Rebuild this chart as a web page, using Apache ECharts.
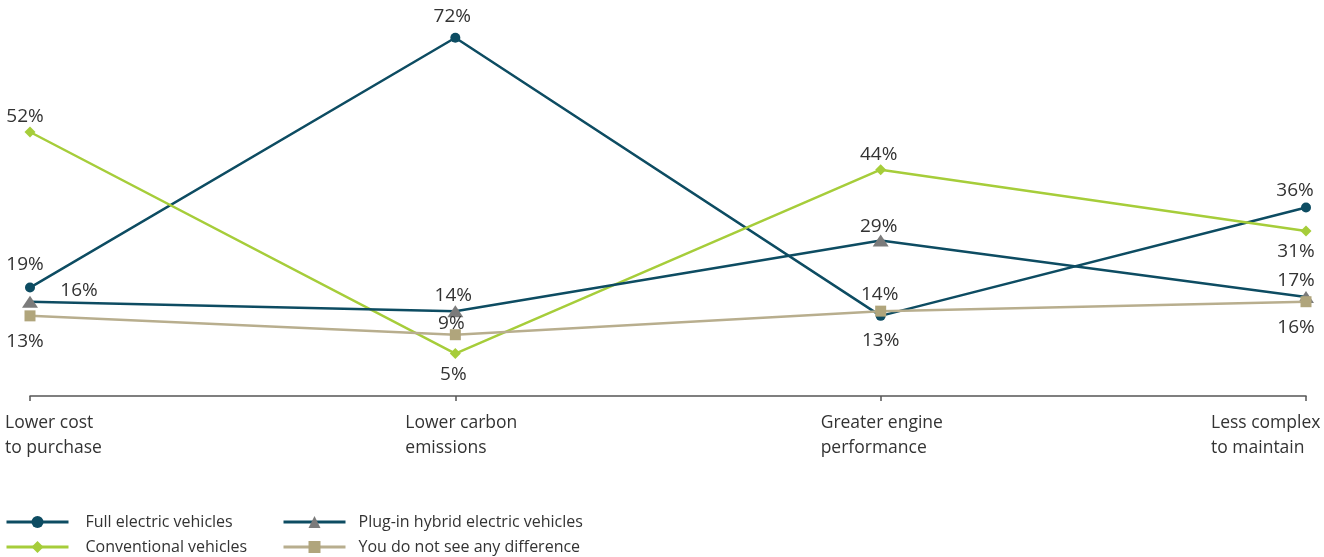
<!DOCTYPE html>
<html>
<head>
<meta charset="utf-8">
<script src="https://cdn.jsdelivr.net/npm/echarts@6/dist/echarts.min.js"></script>
<style>
  html, body { margin: 0; padding: 0; background: #ffffff; }
  #chart { width: 1324px; height: 557px; }
</style>
</head>
<body>
<div id="chart"></div>
<script>
// Categories on the x axis (two-line labels)
const categories = ['Lower cost\nto purchase', 'Lower carbon\nemissions', 'Greater engine\nperformance', 'Less complex\nto maintain'];

// Share of respondents (%) per attribute
const fullElectric = [19, 72, 13, 36];
const conventional = [52, 5, 44, 31];
const plugInHybrid = [16, 14, 29, 17];
const noDifference = [13, 9, 14, 16];

// Value-label offsets [dx, dy] from each marker centre
const fullElectricLabelShift = [[-5, -23], [-3, -21], [0, 25], [-11, -17]];
const conventionalLabelShift = [[-5, -15], [-2, 21], [-2, -15], [-10, 21]];
const plugInHybridLabelShift = [[49, -11], [-2, -16], [-2, -14], [-10, -16]];
const noDifferenceLabelShift = [[-5, 26], [-4, -11], [-1, -17], [-10, 26]];

// Left indent of each two-line axis label, measured from its tick
const axisLabelIndent = [25, 50, 60, 95];

const TEAL = '#0d4c62';
const LIME = '#a6cd3a';
const GREY = '#7b7b7b';
const TAN_LINE = '#b8ae8e';
const TAN_MARK = '#b0a57c';
const TEXT = '#333333';
const FONT = '"Open Sans", "Noto Sans", sans-serif';

function withLabels(values, shifts) {
  return values.map((v, i) => ({
    value: v,
    label: { offset: shifts[i] }
  }));
}

const valueLabel = {
  show: true,
  position: 'inside',
  formatter: '{c}%',
  color: TEXT,
  fontFamily: FONT,
  fontSize: 19,
  textBorderWidth: 0
};

const chart = echarts.init(document.getElementById('chart'), null, { renderer: 'canvas' });

const axisRich = {};
axisLabelIndent.forEach((w, i) => {
  axisRich['c' + i] = {
    width: w,
    align: 'left',
    fontFamily: FONT,
    fontSize: 17.5,
    lineHeight: 25,
    color: TEXT
  };
});

const legendText = { color: TEXT, fontFamily: FONT, fontSize: 16, lineHeight: 20, padding: [0, 0, 0, 12] };

chart.setOption({
  animation: false,
  backgroundColor: '#ffffff',
  grid: { left: 30, right: 18, top: 0, bottom: 161 },
  xAxis: {
    type: 'category',
    data: categories,
    boundaryGap: false,
    axisLine: { show: true, onZero: false, lineStyle: { color: '#555555', width: 1.5 } },
    axisTick: { show: true, length: 5, lineStyle: { color: '#555555', width: 1.5 } },
    axisLabel: {
      interval: 0,
      margin: 15,
      align: 'right',
      formatter: function (val, idx) {
        return val.split('\n').map(line => '{c' + idx + '|' + line + '}').join('\n');
      },
      rich: axisRich
    },
    splitLine: { show: false }
  },
  yAxis: {
    type: 'value',
    min: -4,
    max: 80,
    show: false,
    splitLine: { show: false }
  },
  legend: [
    {
      left: 5,
      top: 512,
      padding: 0,
      orient: 'vertical',
      itemGap: 5,
      itemWidth: 62,
      itemHeight: 15,
      data: ['Full electric vehicles', 'Conventional vehicles'],
      textStyle: legendText,
      lineStyle: { width: 3 }
    },
    {
      left: 282,
      top: 512,
      padding: 0,
      orient: 'vertical',
      itemGap: 5,
      itemWidth: 62,
      itemHeight: 15,
      data: ['Plug-in hybrid electric vehicles', 'You do not see any difference'],
      textStyle: Object.assign({}, legendText, { padding: [0, 0, 0, 8] }),
      lineStyle: { width: 3 }
    }
  ],
  series: [
    {
      name: 'Full electric vehicles',
      type: 'line',
      data: withLabels(fullElectric, fullElectricLabelShift),
      symbol: 'circle',
      symbolSize: 10,
      lineStyle: { color: TEAL, width: 2.5 },
      itemStyle: { color: TEAL },
      label: valueLabel,
      emphasis: { disabled: true },
      z: 2
    },
    {
      name: 'Conventional vehicles',
      type: 'line',
      data: withLabels(conventional, conventionalLabelShift),
      symbol: 'diamond',
      symbolSize: [11, 11],
      lineStyle: { color: LIME, width: 2.5 },
      itemStyle: { color: LIME },
      label: valueLabel,
      emphasis: { disabled: true },
      z: 3
    },
    {
      name: 'Plug-in hybrid electric vehicles',
      type: 'line',
      data: withLabels(plugInHybrid, plugInHybridLabelShift),
      symbol: 'triangle',
      symbolSize: [16, 12],
      lineStyle: { color: TEAL, width: 2.5 },
      itemStyle: { color: GREY },
      label: valueLabel,
      emphasis: { disabled: true },
      z: 4
    },
    {
      name: 'You do not see any difference',
      type: 'line',
      data: withLabels(noDifference, noDifferenceLabelShift),
      symbol: 'rect',
      symbolSize: 11,
      lineStyle: { color: TAN_LINE, width: 2.5 },
      itemStyle: { color: TAN_MARK },
      label: valueLabel,
      emphasis: { disabled: true },
      z: 5
    }
  ]
});
</script>
</body>
</html>
